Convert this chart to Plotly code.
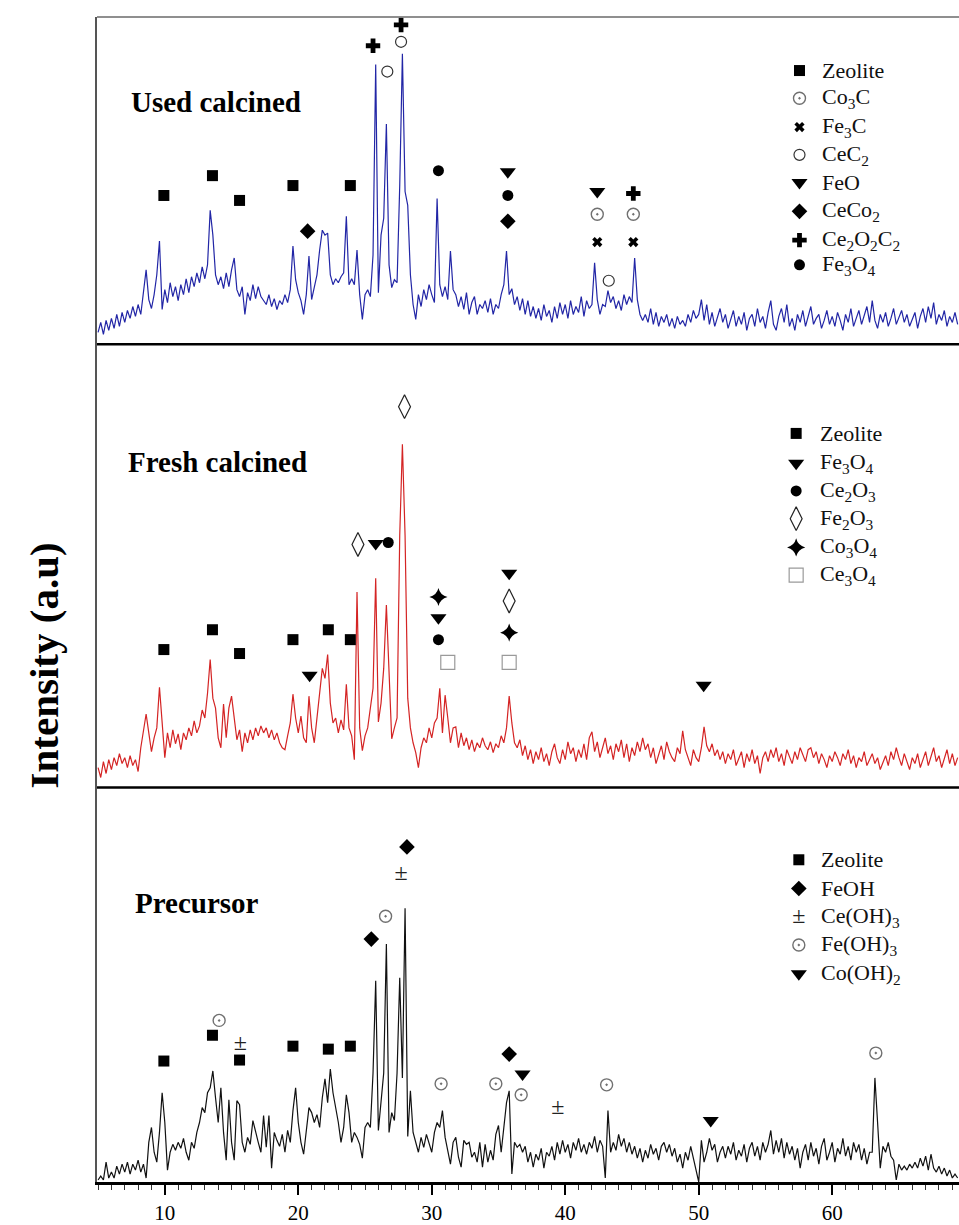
import plotly.graph_objects as go

# ---------------- data ----------------
two_theta = [round(5.0 + 0.2 * i, 1) for i in range(323)]  # sampling grid 5.0 ... 69.4

used_calcined = (
    [12, 22, 10, 24, 14] + [26, 16, 30, 18, 32] + [22, 34, 26, 38, 28] + [40, 30, 50, 75, 45] +
    [36, 50, 70, 104, 35] + [55, 42, 62, 48, 58] + [44, 60, 50, 66, 52] + [68, 58, 72, 62, 78] +
    [66, 80, 135, 110, 70] + [60, 68, 56, 72, 58] + [75, 87, 55, 48, 58] + [30, 52, 44, 60, 46] +
    [58, 48, 44, 40, 50] + [38, 46, 35, 44, 40] + [50, 42, 55, 99, 65] + [52, 44, 30, 50, 89] +
    [45, 58, 70, 95, 115] + [110, 112, 70, 60, 66] + [62, 68, 72, 129, 60] + [66, 60, 95, 50, 25] +
    [50, 55, 48, 90, 282] + [52, 110, 127, 222, 80] + [57, 65, 62, 160, 293] + [154, 140, 70, 40, 25] +
    [50, 38, 55, 45, 60] + [50, 42, 147, 60, 48] + [58, 45, 94, 55, 50] + [38, 48, 35, 52, 30] +
    [42, 48, 30, 40, 36] + [44, 32, 46, 30, 40] + [36, 50, 60, 94, 50] + [56, 40, 48, 34, 46] +
    [30, 44, 28, 38, 26] + [36, 24, 40, 28, 34] + [22, 38, 26, 42, 30] + [40, 26, 44, 30, 38] +
    [32, 48, 28, 44, 36] + [40, 82, 45, 30, 40] + [38, 54, 42, 48, 36] + [44, 34, 50, 40, 48] +
    [42, 87, 45, 30, 24] + [30, 22, 36, 20, 32] + [18, 28, 22, 30, 18] + [26, 16, 28, 20, 24] +
    [18, 30, 22, 34, 26] + [30, 45, 24, 40, 20] + [32, 18, 28, 36, 22] + [30, 16, 26, 34, 18] +
    [28, 20, 32, 14, 26] + [30, 18, 36, 22, 28] + [16, 32, 44, 20, 14] + [28, 36, 22, 40, 18] +
    [26, 14, 30, 22, 34] + [18, 28, 38, 20, 26] + [30, 16, 24, 34, 20] + [28, 18, 32, 24, 14] +
    [30, 22, 36, 18, 26] + [34, 20, 28, 38, 22] + [44, 24, 16, 30, 22] + [32, 18, 26, 36, 20] +
    [28, 34, 22, 30, 18] + [26, 32, 16, 28, 36] + [22, 38, 26, 42, 20] + [30, 24, 34, 18, 28] +
    [22, 32, 20]
)

fresh_calcined = (
    [20, 10, 26, 14, 28] + [18, 30, 22, 34, 24] + [30, 20, 32, 22, 28] + [16, 40, 55, 74, 55] +
    [36, 50, 60, 101, 60] + [30, 55, 40, 58, 44] + [54, 38, 55, 48, 60] + [52, 67, 55, 62, 78] +
    [70, 95, 129, 90, 80] + [50, 40, 84, 50, 80] + [92, 70, 48, 58, 36] + [55, 45, 58, 48, 60] +
    [52, 62, 55, 60, 50] + [58, 48, 55, 45, 40] + [38, 52, 65, 94, 70] + [55, 72, 50, 45, 92] +
    [60, 45, 70, 100, 120] + [110, 134, 85, 65, 70] + [55, 68, 58, 104, 60] + [52, 28, 197, 60, 37] +
    [52, 60, 80, 100, 211] + [66, 85, 120, 184, 110] + [49, 60, 70, 254, 346] + [254, 90, 60, 45, 35] +
    [20, 40, 50, 45, 60] + [50, 65, 70, 100, 55] + [93, 70, 45, 60, 61] + [40, 55, 42, 50, 38] +
    [48, 36, 45, 40, 50] + [42, 38, 46, 35, 44] + [40, 52, 45, 60, 92] + [65, 45, 40, 48, 32] +
    [42, 28, 38, 24, 36] + [28, 40, 26, 34, 22] + [36, 44, 30, 24, 38] + [28, 46, 34, 40, 26] +
    [38, 30, 44, 28, 50] + [56, 36, 46, 30, 40] + [50, 34, 42, 28, 44] + [36, 48, 30, 44, 26] +
    [40, 32, 46, 36, 50] + [38, 44, 30, 40, 24] + [34, 42, 28, 46, 36] + [30, 26, 40, 34, 57] +
    [38, 30, 22, 38, 30] + [26, 40, 61, 42, 36] + [44, 32, 38, 28, 36] + [24, 34, 28, 38, 22] +
    [30, 36, 20, 34, 26] + [38, 24, 32, 14, 30] + [36, 26, 38, 30, 40] + [26, 34, 22, 38, 30] +
    [24, 36, 28, 40, 32] + [26, 38, 40, 30, 36] + [24, 34, 28, 20, 32] + [26, 36, 30, 22, 34] +
    [28, 38, 24, 32, 20] + [30, 26, 36, 22, 28] + [34, 24, 30, 18, 26] + [32, 22, 36, 28, 40] +
    [30, 22, 34, 26, 18] + [30, 24, 34, 20, 28] + [36, 22, 30, 40, 26] + [32, 20, 28, 38, 24] +
    [34, 22, 30]
)

precursor = (
    [2, 6, 2, 20, 4] + [10, 4, 16, 8, 18] + [10, 20, 8, 18, 12] + [22, 10, 18, 4, 40] +
    [55, 30, 20, 50, 90] + [60, 12, 30, 38, 32] + [40, 34, 44, 30, 22] + [40, 34, 50, 60, 75] +
    [70, 90, 95, 112, 85] + [60, 95, 50, 22, 83] + [40, 22, 82, 78, 40] + [30, 45, 38, 62, 50] +
    [40, 30, 67, 35, 67] + [14, 50, 42, 36, 48] + [30, 52, 40, 72, 95] + [60, 40, 28, 50, 75] +
    [70, 60, 68, 55, 85] + [104, 80, 114, 90, 75] + [60, 40, 55, 88, 70] + [40, 50, 45, 38, 24] +
    [55, 60, 55, 110, 203] + [52, 80, 110, 240, 50] + [70, 62, 110, 206, 105] + [276, 46, 92, 50, 40] +
    [30, 45, 35, 48, 38] + [30, 50, 60, 55, 72] + [45, 30, 18, 40, 45] + [25, 15, 42, 38, 40] +
    [25, 30, 20, 40, 15] + [38, 20, 32, 22, 48] + [57, 30, 55, 80, 92] + [8, 40, 35, 38, 30] +
    [36, 20, 30, 15, 28] + [22, 34, 14, 30, 26] + [36, 22, 40, 28, 42] + [30, 38, 24, 40, 32] +
    [44, 30, 38, 28, 40] + [34, 46, 30, 42, 36] + [4, 72, 30, 40, 32] + [48, 36, 44, 30, 40] +
    [28, 36, 24, 34, 20] + [32, 24, 38, 28, 34] + [22, 36, 40, 30, 38] + [26, 34, 20, 28, 14] +
    [30, 22, 36, 24, 10] + [0, 42, 20, 30, 44] + [32, 38, 20, 30, 36] + [24, 36, 28, 40, 22] +
    [32, 26, 38, 20, 34] + [40, 26, 36, 22, 40] + [30, 38, 52, 28, 42] + [30, 44, 24, 40, 28] +
    [36, 22, 34, 14, 30] + [38, 22, 40, 26, 34] + [18, 36, 44, 22, 30] + [40, 20, 34, 28, 44] +
    [26, 36, 22, 40, 30] + [38, 22, 34, 18, 30] + [30, 105, 60, 14, 36] + [30, 40, 26, 22, 2] +
    [18, 12, 16, 12, 18] + [14, 20, 14, 24, 16] + [26, 12, 28, 14, 10] + [16, 8, 14, 6, 12] +
    [4, 8, 4]
)

x_ticks = [10, 20, 30, 40, 50, 60]
panel_titles = ["Used calcined", "Fresh calcined", "Precursor"]

# phase markers: (x positions, heights) per panel
used_marks = {
    "zeolite": ([9.93, 13.57, 15.6, 19.6, 23.9], [150, 170, 145, 160, 160]),
    "diamond": ([20.7, 35.7], [114, 124]),
    "plus": ([25.6, 27.7, 45.1], [301, 322, 152]),
    "ocircle": ([26.67, 27.7, 43.26], [275, 305, 64]),
    "dot": ([30.5, 35.7], [175, 150]),
    "tri": ([35.7, 42.4], [174, 154]),
    "gear": ([42.4, 45.1], [131, 131]),
    "x": ([42.4, 45.1], [103, 103]),
}
used_legend = ["Zeolite", "Co<sub>3</sub>C", "Fe<sub>3</sub>C", "CeC<sub>2</sub>", "FeO",
               "CeCo<sub>2</sub>", "Ce<sub>2</sub>O<sub>2</sub>C<sub>2</sub>", "Fe<sub>3</sub>O<sub>4</sub>"]
used_legend_sym = ["zeolite", "gear", "x", "ocircle", "tri", "diamond", "plus", "dot"]
used_legend_y = [276, 248, 219, 191, 163, 134, 105, 80]

fresh_marks = {
    "zeolite": ([9.93, 13.57, 15.6, 19.6, 22.25, 23.9], [139, 159, 135, 149, 159, 149]),
    "tri": ([20.85, 25.8, 30.5, 35.8, 50.37], [113, 246, 171, 216, 103]),
    "odiamond": ([24.47, 27.96, 35.8], [245, 384, 188]),
    "dot": ([26.74, 30.5], [247, 149]),
    "star4": ([30.5, 35.8], [192, 156]),
    "osquare": ([31.2, 35.8], [126, 126]),
}
fresh_legend = ["Zeolite", "Fe<sub>3</sub>O<sub>4</sub>", "Ce<sub>2</sub>O<sub>3</sub>",
                "Fe<sub>2</sub>O<sub>3</sub>", "Co<sub>3</sub>O<sub>4</sub>", "Ce<sub>3</sub>O<sub>4</sub>"]
fresh_legend_sym = ["zeolite", "tri", "dot", "odiamond", "star4", "osquare"]
fresh_legend_y = [357, 327, 299, 271, 242, 214]

prec_marks = {
    "zeolite": ([9.93, 13.57, 15.6, 19.6, 22.25, 23.9], [122, 148, 123, 137, 134, 137]),
    "gear": ([14.07, 26.54, 30.7, 34.8, 36.7, 43.1, 63.27], [163, 268, 99, 99, 88, 98, 130]),
    "pm": ([15.66, 27.7, 39.45], [139, 311, 75]),
    "diamond": ([25.47, 28.14, 35.8], [245, 338, 129]),
    "tri": ([36.8, 50.9], [109, 62]),
}
prec_legend = ["Zeolite", "FeOH", "Ce(OH)<sub>3</sub>", "Fe(OH)<sub>3</sub>", "Co(OH)<sub>2</sub>"]
prec_legend_sym = ["zeolite", "diamond", "pm", "gear", "tri"]
prec_legend_y = [325, 296, 267, 239, 210]

# ---------------- styling ----------------
W, H = 959, 1225
ML, MR, MT, MB = 97, 0, 17, 33
PW, PH = W - ML - MR, H - MT - MB
XR = [4.92, 69.5]
SERIF = "Liberation Serif, Times New Roman, serif"

h1, h2, h3 = 330, 447, 398
d3 = [0, h3 / PH]
d2 = [h3 / PH, (h3 + h2) / PH]
d1 = [(h3 + h2) / PH, 1]

SYM = {
    "zeolite": dict(symbol="square", size=11, color="black", line=dict(width=0)),
    "gear": dict(symbol="circle-open-dot", size=12, color="#707070", line=dict(width=1.4, color="#707070")),
    "x": dict(symbol="x", size=9, color="black", line=dict(width=0)),
    "ocircle": dict(symbol="circle-open", size=11, color="#333333", line=dict(width=1.2, color="#333333")),
    "tri": dict(symbol="triangle-down", size=14, color="black", line=dict(width=0)),
    "diamond": dict(symbol="diamond", size=12, color="black", line=dict(width=0)),
    "plus": dict(symbol="cross", size=12, color="black", line=dict(width=0)),
    "dot": dict(symbol="circle", size=11, color="black", line=dict(width=0)),
    "odiamond": dict(symbol="diamond-tall-open", size=17, color="#222222", line=dict(width=1.2, color="#222222")),
    "star4": dict(symbol="star-diamond", size=13, color="black", line=dict(width=0)),
    "osquare": dict(symbol="square-open", size=14, color="#9a9a9a", line=dict(width=1.2, color="#9a9a9a")),
}

fig = go.Figure()


def add_mark(xs, ys, key, yax):
    if key == "pm":
        fig.add_trace(go.Scatter(x=xs, y=ys, mode="text", text=["±"] * len(xs), xaxis="x", yaxis=yax,
                                 textposition="middle center",
                                 textfont=dict(family=SERIF, size=24, color="#222"),
                                 hoverinfo="skip", cliponaxis=False))
    else:
        fig.add_trace(go.Scatter(x=xs, y=ys, mode="markers", marker=SYM[key], xaxis="x", yaxis=yax,
                                 hoverinfo="skip", cliponaxis=False))


panels = [
    (used_calcined, "#2226a6", "y", used_marks, used_legend, used_legend_sym, used_legend_y, 57.55, 59.05),
    (fresh_calcined, "#d42424", "y2", fresh_marks, fresh_legend, fresh_legend_sym, fresh_legend_y, 57.3, 58.9),
    (precursor, "#111111", "y3", prec_marks, prec_legend, prec_legend_sym, prec_legend_y, 57.5, 59.0),
]

for ys, col, yax, marks, leg, legsym, legy, lx, tx in panels:
    fig.add_trace(go.Scatter(x=two_theta, y=ys, mode="lines", line=dict(color=col, width=1.2),
                             xaxis="x", yaxis=yax, hoverinfo="skip"))
    for key, (mx, my) in marks.items():
        add_mark(mx, my, key, yax)
    for name, key, yy in zip(leg, legsym, legy):
        add_mark([lx], [yy], key, yax)
        fig.add_annotation(x=tx, y=yy, xref="x", yref=yax, text=name, showarrow=False,
                           xanchor="left", yanchor="middle",
                           font=dict(family=SERIF, size=22, color="#111"))


def pxx(px):
    return (px - ML) / PW


def pyy(py):
    return (H - MB - py) / PH


# panel titles
for title, px, py in zip(panel_titles, [129, 126, 133], [103, 466, 911]):
    fig.add_annotation(x=pxx(px), y=pyy(py), xref="paper", yref="paper", text="<b>%s</b>" % title,
                       showarrow=False, xanchor="left", yanchor="middle",
                       font=dict(family=SERIF, size=29, color="black"))

# y label
fig.add_annotation(x=pxx(44), y=pyy(671), xref="paper", yref="paper", text="<b>Intensity (a.u)</b>",
                   showarrow=False, textangle=-90, xanchor="center", yanchor="middle",
                   font=dict(family=SERIF, size=41, color="black"))

# separators
fig.add_shape(type="line", xref="paper", yref="paper", x0=0, x1=1, y0=d1[0], y1=d1[0],
              line=dict(color="black", width=2.5))
fig.add_shape(type="line", xref="paper", yref="paper", x0=0, x1=1, y0=d2[0], y1=d2[0],
              line=dict(color="black", width=2.5))
fig.add_shape(type="line", xref="paper", yref="paper", x0=0, x1=1, y0=1, y1=1,
              line=dict(color="#6a6a6a", width=1.5))

yax_common = dict(showticklabels=False, ticks="", showgrid=False, zeroline=False,
                  showline=True, linecolor="#555555", linewidth=1.5)

fig.update_layout(
    width=W, height=H,
    margin=dict(l=ML, r=MR, t=MT, b=MB),
    plot_bgcolor="white", paper_bgcolor="white",
    showlegend=False,
    xaxis=dict(range=XR, anchor="y3", tickmode="array", tickvals=x_ticks,
               ticktext=[str(t) for t in x_ticks],
               ticks="outside", ticklen=10, tickwidth=1.5, tickcolor="black",
               minor=dict(ticks="outside", ticklen=5, tickwidth=1, tickcolor="#333",
                          tickmode="linear", tick0=0, dtick=1, showgrid=False),
               showline=True, linecolor="black", linewidth=3,
               showgrid=False, zeroline=False,
               tickfont=dict(family=SERIF, size=21, color="black")),
    yaxis=dict(domain=d1, range=[0, h1], **yax_common),
    yaxis2=dict(domain=d2, range=[0, h2], **yax_common),
    yaxis3=dict(domain=d3, range=[0, h3], **yax_common),
)

fig.write_html("out.html", config={"displayModeBar": False},
               post_script="document.body.style.margin='0';document.body.style.overflow='hidden';")
